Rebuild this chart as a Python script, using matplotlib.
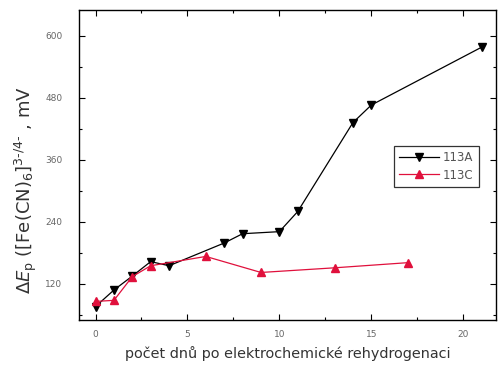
import matplotlib.pyplot as plt
from matplotlib.ticker import MultipleLocator

# data
days_a = [0, 1, 2, 3, 4, 7, 8, 10, 11, 14, 15, 21]
dep_a = [76, 108, 135, 163, 155, 199, 217, 221, 260, 432, 466, 578]
days_c = [0, 1, 2, 3, 6, 9, 13, 17]
dep_c = [86, 88, 134, 155, 173, 142, 151, 161]
labels = ['113A', '113C']

fig = plt.figure(figsize=(4.98, 3.65), dpi=100)
ax = fig.add_axes([0.1586, 0.1233, 0.838, 0.8493])

ax.plot(days_a, dep_a, color='black', lw=0.9, marker='v', ms=5.5,
        label=labels[0])
ax.plot(days_c, dep_c, color='#e0103c', lw=0.9, marker='^', ms=5.5,
        label=labels[1])

ax.set_xlim(-0.9, 21.8)
ax.set_ylim(50, 650)
ax.xaxis.set_major_locator(MultipleLocator(5))
ax.xaxis.set_minor_locator(MultipleLocator(2.5))
ax.yaxis.set_major_locator(MultipleLocator(120))
ax.yaxis.set_minor_locator(MultipleLocator(60))
ax.tick_params(which='both', direction='in', top=True, right=True,
               labelsize=6.5, labelcolor='#666666', width=0.8)
ax.tick_params(which='major', length=4)
ax.tick_params(which='minor', length=2.5)
ax.tick_params(axis='x', pad=7)
ax.tick_params(axis='y', pad=12)
for s in ax.spines.values():
    s.set_linewidth(1.0)

ax.set_ylabel(r'$\Delta E_{\rm p}$ ([Fe(CN)$_6$]$^{3\text{-}/4\text{-}}$ , mV',
              fontsize=13, color='#333333')
ax.yaxis.set_label_coords(-0.095, 0.42)
ax.set_xlabel('počet dnů po elektrochemické rehydrogenaci',
              fontsize=10.4, color='#333333', labelpad=5)

leg = ax.legend(loc='upper left', bbox_to_anchor=(0.74, 0.58),
                fontsize=8.5, frameon=True, fancybox=False,
                edgecolor='black', handlelength=3.4, borderpad=0.45,
                labelspacing=0.35, handletextpad=0.3)
leg.get_frame().set_linewidth(0.9)
for t in leg.get_texts():
    t.set_color('#555555')

fig.savefig('out.png', dpi=100)
